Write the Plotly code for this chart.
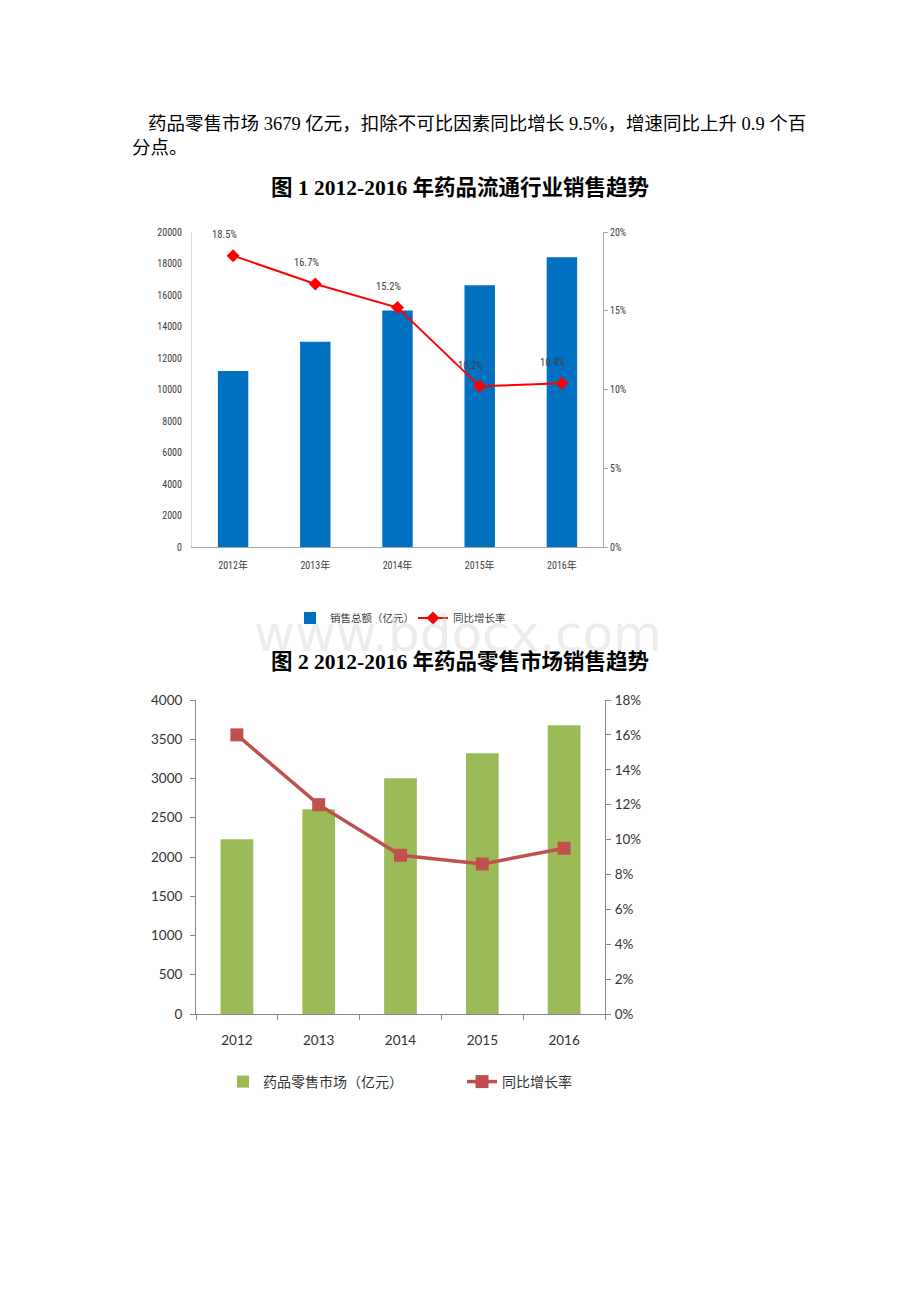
import plotly.graph_objects as go

# ---------------- data ----------------
years1 = ["2012年", "2013年", "2014年", "2015年", "2016年"]
sales1 = [11174, 13036, 15021, 16613, 18393]          # 销售总额（亿元）
growth1 = [18.5, 16.7, 15.2, 10.2, 10.4]               # 同比增长率 %

years2 = ["2012", "2013", "2014", "2015", "2016"]
retail2 = [2225, 2607, 3004, 3323, 3679]               # 药品零售市场（亿元）
growth2 = [16.0, 12.0, 9.1, 8.6, 9.5]                  # 同比增长率 %

para_line1 = "药品零售市场 3679 亿元，扣除不可比因素同比增长 9.5%，增速同比上升 0.9 个百"
para_line2 = "分点。"
title1 = "<b>图 1 2012-2016 年药品流通行业销售趋势</b>"
title2 = "<b>图 2 2012-2016 年药品零售市场销售趋势</b>"
watermark = "www.bdocx.com"

W, H = 920, 1302
def px(x):
    return x / W
def py(y):
    return 1 - y / H

NARROW = "Liberation Sans Narrow, Roboto Condensed, Noto Sans Condensed, DejaVu Sans Condensed, Noto Sans CJK SC, sans-serif"
CAL = "Lato, Noto Sans CJK SC, sans-serif"
SERIF = "Liberation Serif, Noto Sans CJK SC, serif"

fig = go.Figure()

# chart 1
fig.add_trace(go.Bar(x=years1, y=sales1, xaxis="x", yaxis="y", width=0.37,
                     marker=dict(color="#0070C0", line=dict(width=0)),
                     name="销售总额（亿元）", legend="legend"))
fig.add_trace(go.Scatter(x=years1, y=growth1, xaxis="x", yaxis="y2",
                         mode="lines+markers",
                         line=dict(color="#FF0000", width=2),
                         marker=dict(symbol="diamond", size=10, color="#FF0000"),
                         name="同比增长率", legend="legend"))

# chart 2
fig.add_trace(go.Bar(x=years2, y=retail2, xaxis="x2", yaxis="y3", width=0.4,
                     marker=dict(color="#9BBB59", line=dict(width=0)),
                     name="药品零售市场（亿元）", legend="legend2"))
fig.add_trace(go.Scatter(x=years2, y=growth2, xaxis="x2", yaxis="y4",
                         mode="lines+markers",
                         line=dict(color="#C0504D", width=3.5),
                         marker=dict(symbol="square", size=13, color="#C0504D"),
                         name="同比增长率", legend="legend2"))

annotations = []
for yr, g in zip(years1, growth1):
    annotations.append(dict(x=yr, y=g, xref="x", yref="y2", text=f"{g}%",
                            showarrow=False, yshift=21, xshift=-9,
                            font=dict(family=NARROW, size=10.5, color="#404040")))

annotations += [
    dict(x=px(146), y=py(124), xref="paper", yref="paper", xanchor="left", yanchor="middle",
         text=para_line1, showarrow=False, font=dict(family=SERIF, size=18.5, color="#000")),
    dict(x=px(130), y=py(148), xref="paper", yref="paper", xanchor="left", yanchor="middle",
         text=para_line2, showarrow=False, font=dict(family=SERIF, size=18.5, color="#000")),
    dict(x=px(460), y=py(188), xref="paper", yref="paper", xanchor="center", yanchor="middle",
         text=title1, showarrow=False, font=dict(family=SERIF, size=21.5, color="#000")),
    dict(x=px(460), y=py(662), xref="paper", yref="paper", xanchor="center", yanchor="middle",
         text=title2, showarrow=False, font=dict(family=SERIF, size=21.5, color="#000")),
    dict(x=px(458), y=py(634), xref="paper", yref="paper", xanchor="center", yanchor="middle",
         text=watermark, showarrow=False,
         font=dict(family="DejaVu Sans, sans-serif", size=50, color="rgba(200,200,200,0.35)")),
]

axis_font1 = dict(family=NARROW, size=10, color="#404040")
axis_font2 = dict(family=CAL, size=13.5, color="#333333")

fig.update_layout(
    width=W, height=H, margin=dict(l=0, r=0, t=0, b=0, autoexpand=False),
    paper_bgcolor="white", plot_bgcolor="white",
    xaxis=dict(domain=[px(192), px(603)], anchor="y", type="category",
               showline=True, linecolor="#A6A6A6", linewidth=1, ticks="",
               showgrid=False, tickfont=axis_font1, ticklabelstandoff=9),
    yaxis=dict(domain=[py(547), py(232)], anchor="x", range=[0, 20000], dtick=2000,
               tickformat="d",
               showline=True, linecolor="#D9D9D9", showgrid=False, zeroline=False,
               ticks="", tickfont=axis_font1, ticklabelstandoff=7),
    yaxis2=dict(overlaying="y", side="right", anchor="x", range=[0, 20], dtick=5,
                ticksuffix="%", showline=True, linecolor="#A6A6A6", showgrid=False,
                zeroline=False, ticks="outside", ticklen=4, tickcolor="#A6A6A6",
                tickfont=axis_font1, ticklabelstandoff=0),
    xaxis2=dict(domain=[px(196), px(605)], anchor="y3", type="category",
                showline=True, linecolor="#868686", linewidth=1,
                ticks="outside", tickson="boundaries", ticklen=5, tickcolor="#868686",
                showgrid=False, tickfont=axis_font2, ticklabelstandoff=14),
    yaxis3=dict(domain=[py(1014), py(700)], anchor="x2", range=[0, 4000], dtick=500,
                tickformat="d",
                showline=True, linecolor="#868686", showgrid=False, zeroline=False,
                ticks="outside", ticklen=5, tickcolor="#868686", tickfont=axis_font2,
                ticklabelstandoff=5),
    yaxis4=dict(overlaying="y3", side="right", anchor="x2", range=[0, 18], dtick=2,
                ticksuffix="%", showline=True, linecolor="#868686", showgrid=False,
                zeroline=False, ticks="outside", ticklen=5, tickcolor="#868686",
                tickfont=axis_font2, ticklabelstandoff=1),
    legend=dict(orientation="h", x=px(290), y=py(618), xanchor="left", yanchor="middle",
                font=dict(family=NARROW, size=10.5, color="#404040"),
                bgcolor="rgba(0,0,0,0)", itemwidth=30, entrywidth=78),
    legend2=dict(orientation="h", x=px(223), y=py(1082), xanchor="left", yanchor="middle",
                 font=dict(family=CAL, size=14, color="#333333"),
                 bgcolor="rgba(0,0,0,0)", itemwidth=30, entrywidth=194),
    annotations=annotations,
    showlegend=True,
)

fig.write_html("out.html")
